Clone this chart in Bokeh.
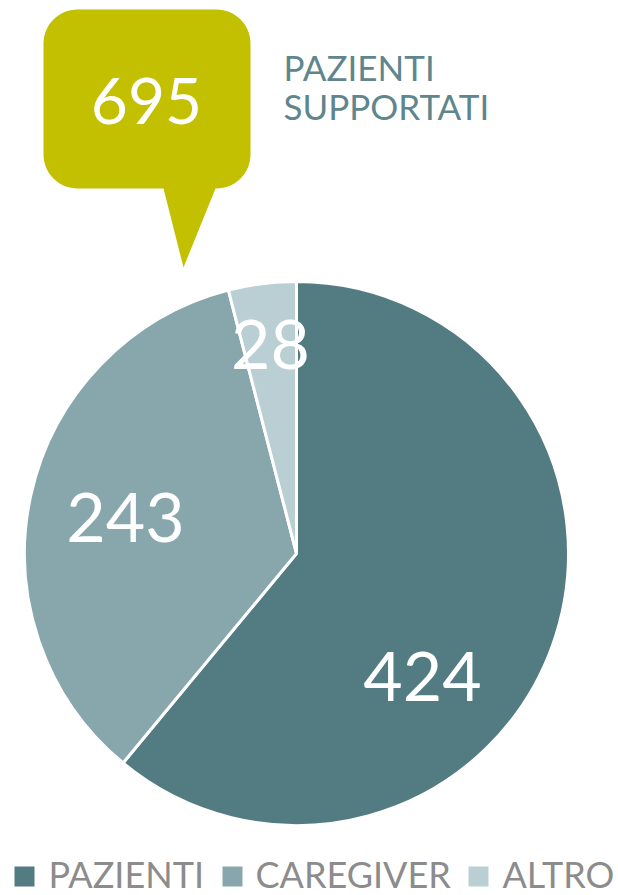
import math
from bokeh.plotting import figure
from bokeh.models import Range1d
from bokeh.core.properties import value
from bokeh.embed import file_html
from bokeh.resources import INLINE

# ---- data ----
categories = ["PAZIENTI", "CAREGIVER", "ALTRO"]
counts = [424, 243, 28]
total_label = "695"
title_lines = ["PAZIENTI", "SUPPORTATI"]

# ---- style ----
slice_colors = ["#537B82", "#87A7AD", "#B9CFD3"]
callout_color = "#C2C000"
title_color = "#5F868D"
legend_text_color = "#8C8C8C"
FONT = "Lato"

W, H = 618, 895
SHIFT = 0.35  # empirical baseline compensation (in em)


def Y(sy):
    # screen y (from top of page) -> data y
    return H - sy


def TY(baseline, fs):
    return Y(baseline - SHIFT * fs)


p = figure(width=W, height=H, output_backend="svg", toolbar_location=None,
           x_range=Range1d(0, W), y_range=Range1d(0, H), min_border=0)
p.axis.visible = False
p.grid.visible = False
p.outline_line_color = None
p.background_fill_color = "white"
p.border_fill_color = "white"

# ---- pie ----
cx, cy, r = 296, Y(553), 272
tot = sum(counts)
starts, ends = [], []
acc = 0.0
for c in counts:
    a0 = math.pi / 2 - 2 * math.pi * acc / tot
    acc += c
    a1 = math.pi / 2 - 2 * math.pi * acc / tot
    starts.append(a0)
    ends.append(a1)

p.wedge(x=[cx] * len(counts), y=[cy] * len(counts), radius=r,
        start_angle=starts, end_angle=ends, direction="clock",
        fill_color=slice_colors, line_color="white", line_width=3)

# slice labels (label anchor positions are style)
FS_NUM = 68
label_pos = [(422, 700), (125, 541), (270, 368)]
p.text(x=[q[0] for q in label_pos], y=[TY(q[1], FS_NUM) for q in label_pos],
       text=[str(c) for c in counts], text_color="white",
       text_font=value(FONT), text_font_size=f"{FS_NUM}px",
       text_align="center", text_baseline="alphabetic")

# ---- callout ----
bx0, bx1, by0, by1, rad = 43, 250, 9, 188, 34
xs, ys = [], []
corners = [(bx1 - rad, by0 + rad, -90, 0), (bx1 - rad, by1 - rad, 0, 90),
           (bx0 + rad, by1 - rad, 90, 180), (bx0 + rad, by0 + rad, 180, 270)]
for i, (ccx, ccy, d0, d1) in enumerate(corners):
    for k in range(17):
        t = math.radians(d0 + (d1 - d0) * k / 16)
        xs.append(ccx + rad * math.cos(t))
        ys.append(Y(ccy + rad * math.sin(t)))
    if i == 1:
        # pointer along bottom edge (going right->left)
        xs += [215, 183, 163]
        ys += [Y(by1), Y(267), Y(by1)]
p.patch(xs, ys, fill_color=callout_color, line_color=None)
FS_TOT = 64
p.text(x=[146], y=[TY(123, FS_TOT)], text=[total_label], text_color="white",
       text_font=value(FONT), text_font_size=f"{FS_TOT}px",
       text_align="center", text_baseline="alphabetic")

# ---- title ----
FS_T = 35
p.text(x=[283, 283], y=[TY(79, FS_T), TY(118, FS_T)], text=title_lines,
       text_color=title_color,
       text_font=value(FONT), text_font_size=f"{FS_T}px",
       text_align="left", text_baseline="alphabetic")

# ---- legend ----
FS_L = 36
sq_x = [24, 232, 478]
tx_x = [48, 255, 502]
p.rect(x=sq_x, y=[Y(876)] * 3, width=20, height=20,
       fill_color=slice_colors, line_color=None)
p.text(x=tx_x, y=[TY(886, FS_L)] * 3, text=categories, text_color=legend_text_color,
       text_font=value(FONT), text_font_size=f"{FS_L}px",
       text_align="left", text_baseline="alphabetic")

open("out.html", "w").write(file_html(p, INLINE))
